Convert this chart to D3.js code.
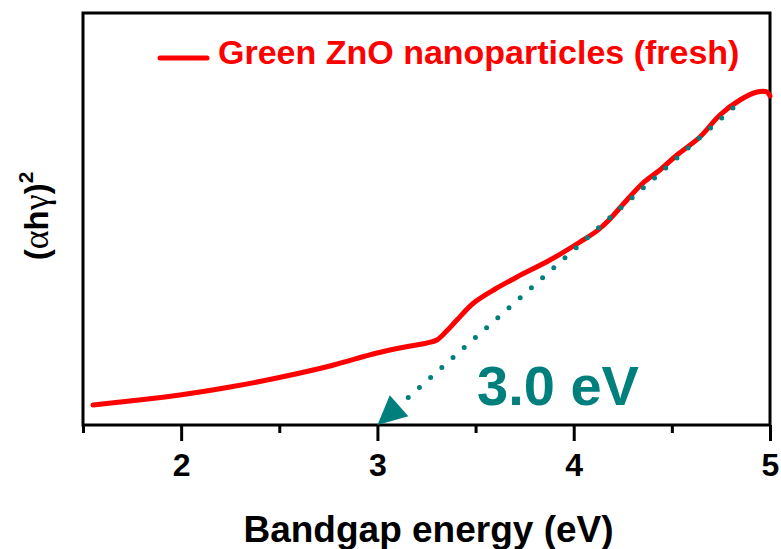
<!DOCTYPE html>
<html>
<head>
<meta charset="utf-8">
<script src="https://cdn.jsdelivr.net/npm/d3@7"></script>
<style>
  html, body { margin: 0; padding: 0; background: #fff; }
  svg { display: block; }
</style>
</head>
<body>
<svg id="chart" width="781" height="549"></svg>
<script>
// ---- data ----
const energy = [1.551, 1.739, 1.994, 2.249, 2.488, 2.758, 2.998, 3.140, 3.252, 3.303,
                3.355, 3.405, 3.490, 3.600, 3.711, 3.879, 4.032, 4.120, 4.185, 4.230,
                4.271, 4.353, 4.439, 4.526, 4.643, 4.745, 4.847, 4.934, 4.985, 5.0];
const absorb = [5.0, 6.0, 7.5, 9.5, 11.75, 14.75, 18.0, 19.5, 20.5, 21.25,
                23.6, 26.25, 30.5, 34.0, 37.0, 41.25, 45.75, 48.6, 51.5, 54.0,
                56.25, 60.5, 63.75, 67.5, 72.0, 77.5, 81.25, 83.25, 83.25, 82.25];
const tangentE = [3.0, 4.811];
const tangentA = [0, 79.25];
const majorTicks = [2, 3, 4, 5];
const minorTicks = [1.5, 2.5, 3.5, 4.5];
const seriesName = "Green ZnO nanoparticles (fresh)";
const gapLabel = "3.0 eV";
const xTitle = "Bandgap energy (eV)";

// ---- layout ----
const L = 83, R = 770, T = 13, B = 425;
const svg = d3.select("#chart");
const x = d3.scaleLinear().domain([1.5, 5]).range([L, R]);
const y = d3.scaleLinear().domain([0, 103]).range([B, T]);
const red = "#ff0000", teal = "#007f7d";
const sans = "Liberation Sans, Arial, sans-serif";

// axes ticks
const major = svg.append("g").attr("transform", `translate(0,${B})`)
  .call(d3.axisBottom(x).tickValues(majorTicks).tickSize(16).tickPadding(12).tickFormat(d3.format("d")));
const minor = svg.append("g").attr("transform", `translate(0,${B})`)
  .call(d3.axisBottom(x).tickValues(minorTicks).tickSize(8).tickFormat(""));
[major, minor].forEach(g => {
  g.select(".domain").remove();
  g.selectAll("line").attr("stroke", "#000").attr("stroke-width", 3);
});
major.selectAll("text").attr("font-family", sans).attr("font-weight", "bold")
  .attr("font-size", 32).attr("fill", "#000").attr("dy", "0.71em");

// frame
svg.append("rect").attr("x", L).attr("y", T).attr("width", R - L).attr("height", B - T)
  .attr("fill", "none").attr("stroke", "#000").attr("stroke-width", 3);

// curve
const pts = energy.map((e, i) => [e, absorb[i]]);
svg.append("path").datum(pts)
  .attr("d", d3.line().x(d => x(d[0])).y(d => y(d[1])).curve(d3.curveCatmullRom))
  .attr("fill", "none").attr("stroke", red).attr("stroke-width", 5)
  .attr("stroke-linecap", "round").attr("stroke-linejoin", "round");

// tangent arrow
const x0 = x(tangentE[0]), y0 = y(tangentA[0]);
const x1 = x(tangentE[1]), y1 = y(tangentA[1]);
const len = Math.hypot(x1 - x0, y1 - y0);
const ux = (x1 - x0) / len, uy = (y1 - y0) / len;
const headL = 29, headW = 14;
const bx = x0 + ux * headL, by = y0 + uy * headL;
svg.append("path")
  .attr("d", `M${x0},${y0} L${bx - uy * headW},${by + ux * headW} L${bx + uy * headW},${by - ux * headW} Z`)
  .attr("fill", teal);
const sx = x0 + ux * 32, sy = y0 + uy * 32;
svg.append("line").attr("x1", x1).attr("y1", y1).attr("x2", sx).attr("y2", sy)
  .attr("stroke", teal).attr("stroke-width", 5).attr("stroke-linecap", "round")
  .attr("stroke-dasharray", "0 15");

// gap label
svg.append("text").attr("x", 477).attr("y", 405)
  .attr("font-family", sans).attr("font-weight", "bold").attr("font-size", 56)
  .attr("fill", teal).text(gapLabel);

// legend
svg.append("line").attr("x1", 160).attr("x2", 207).attr("y1", 58).attr("y2", 58)
  .attr("stroke", red).attr("stroke-width", 5).attr("stroke-linecap", "round");
svg.append("text").attr("x", 218).attr("y", 64)
  .attr("font-family", sans).attr("font-weight", "bold").attr("font-size", 34)
  .attr("fill", red).text(seriesName);

// x title
svg.append("text").attr("x", (L + R) / 2 + 2).attr("y", 542).attr("text-anchor", "middle")
  .attr("font-family", sans).attr("font-weight", "bold").attr("font-size", 37)
  .attr("fill", "#000").text(xTitle);

// y title
const yt = svg.append("text").attr("transform", "translate(48,216) rotate(-90)")
  .attr("text-anchor", "middle").attr("font-family", sans).attr("font-weight", "bold")
  .attr("font-size", 33).attr("fill", "#000");
yt.append("tspan").text("(");
yt.append("tspan").attr("font-family", "Liberation Serif, serif").attr("font-weight", "normal").attr("font-size", 36).text("α");
yt.append("tspan").text("h");
yt.append("tspan").attr("font-family", "Liberation Serif, serif").attr("font-weight", "normal").attr("font-size", 36).text("γ");
yt.append("tspan").text(")");
yt.append("tspan").attr("font-size", 21).attr("dy", -15).text("2");
</script>
</body>
</html>
